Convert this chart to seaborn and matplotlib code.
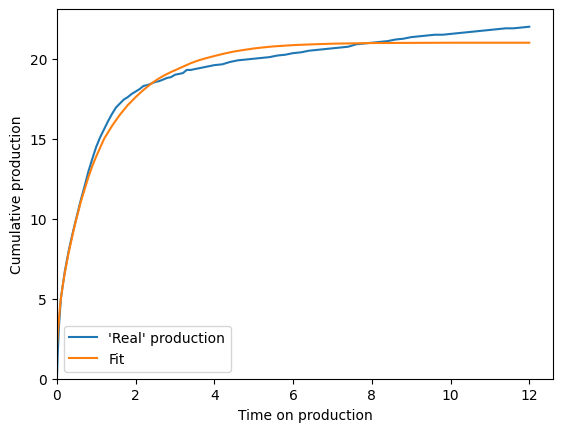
import matplotlib
matplotlib.use("Agg")
import matplotlib.pyplot as plt
import seaborn as sns

real_t = [0.0, 0.02, 0.05, 0.1, 0.2, 0.3, 0.4, 0.5, 0.6, 0.7, 0.8, 0.9, 1.0, 1.1, 1.2, 1.3,
          1.4, 1.5, 1.6, 1.7, 1.8, 1.9, 2.0, 2.1, 2.2, 2.3, 2.4, 2.5, 2.6, 2.7, 2.8, 2.9,
          3.0, 3.1, 3.2, 3.3, 3.4, 3.5, 3.6, 3.7, 3.8, 3.9, 4.0, 4.2, 4.4, 4.6, 4.8, 5.0,
          5.2, 5.4, 5.6, 5.8, 6.0, 6.2, 6.4, 6.6, 6.8, 7.0, 7.2, 7.4, 7.6, 7.8, 8.0, 8.2,
          8.4, 8.6, 8.8, 9.0, 9.2, 9.4, 9.6, 9.8, 10.0, 10.2, 10.4, 10.6, 10.8, 11.0, 11.2,
          11.4, 11.6, 11.8, 12.0]
real_q = [0.0, 1.5, 3.2, 5.0, 6.7, 8.0, 9.1, 10.1, 11.1, 12.0, 12.95, 13.75, 14.5, 15.1, 15.6, 16.1,
          16.55, 16.95, 17.2, 17.45, 17.6, 17.8, 17.95, 18.1, 18.3, 18.35, 18.45, 18.55, 18.6, 18.7, 18.8, 18.85,
          19.0, 19.05, 19.1, 19.3, 19.3, 19.35, 19.4, 19.45, 19.5, 19.55, 19.6, 19.65, 19.8, 19.9, 19.95, 20.0,
          20.05, 20.1, 20.2, 20.25, 20.35, 20.4, 20.5, 20.55, 20.6, 20.65, 20.7, 20.75, 20.9, 20.95, 21.0, 21.05,
          21.1, 21.2, 21.25, 21.35, 21.4, 21.45, 21.5, 21.5, 21.55, 21.6, 21.65, 21.7, 21.75, 21.8, 21.85,
          21.9, 21.9, 21.95, 22.0]

fit_t = [0.0, 0.025, 0.05, 0.075, 0.1, 0.15, 0.2, 0.25, 0.3, 0.35, 0.4, 0.45, 0.5, 0.55, 0.6,
         0.65, 0.7, 0.75, 0.8, 0.85, 0.9, 0.95, 1.0, 1.1, 1.2, 1.3, 1.4, 1.5, 1.6, 1.7, 1.8,
         1.9, 2.0, 2.1, 2.2, 2.3, 2.4, 2.5, 2.6, 2.7, 2.8, 2.9, 3.0, 3.2, 3.4, 3.6, 3.8, 4.0,
         4.25, 4.5, 4.75, 5.0, 5.25, 5.5, 5.75, 6.0, 6.5, 7.0, 7.5, 8.0, 9.0, 10.0, 12.0]
fit_q = [1.9, 2.9, 3.6, 4.4, 5.0, 5.85, 6.6, 7.25, 7.9, 8.45, 9.0, 9.55, 10.05, 10.5, 11.0,
         11.4, 11.8, 12.2, 12.6, 12.95, 13.3, 13.6, 13.9, 14.45, 15.0, 15.4, 15.8, 16.15, 16.5, 16.8, 17.1,
         17.35, 17.6, 17.83, 18.05, 18.25, 18.45, 18.62, 18.78, 18.92, 19.05, 19.17, 19.28, 19.5, 19.72, 19.9, 20.04, 20.17,
         20.32, 20.45, 20.55, 20.64, 20.71, 20.77, 20.81, 20.85, 20.9, 20.94, 20.96, 20.98, 20.99, 21.0, 21.0]

fig, ax = plt.subplots(figsize=(6.4, 4.8), dpi=100)
sns.lineplot(x=real_t, y=real_q, ax=ax, label="'Real' production", color="#1f77b4", estimator=None)
sns.lineplot(x=fit_t, y=fit_q, ax=ax, label="Fit", color="#ff7f0e", estimator=None)
ax.set_xlim(left=0)
ax.set_ylim(bottom=0)
ax.set_xlabel("Time on production")
ax.set_ylabel("Cumulative production")
ax.legend(loc="lower left")
fig.savefig("out.png", bbox_inches="tight")
